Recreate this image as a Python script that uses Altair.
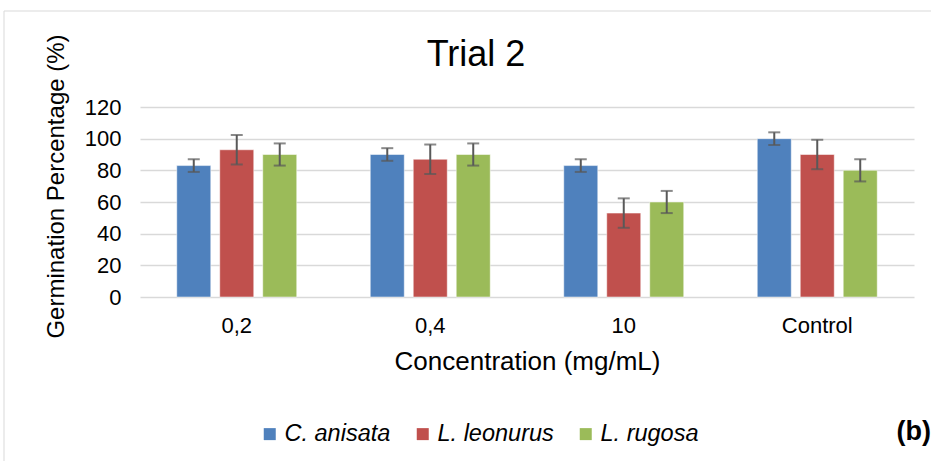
import altair as alt
import pandas as pd

concentrations = ["0,2", "0,4", "10", "Control"]
species = ["C. anisata", "L. leonurus", "L. rugosa"]
colors = ["#4f81bd", "#c0504d", "#9bbb59"]
c_anisata = [83, 90, 83, 100]
l_leonurus = [93, 87, 53, 90]
l_rugosa = [90, 90, 60, 80]
err_c_anisata = [4, 4, 4, 4]
err_l_leonurus = [9.3, 9.3, 9.3, 9.3]
err_l_rugosa = [7, 7, 7, 7]
y_ticks = [0, 20, 40, 60, 80, 100, 120]

rows = []
for sp, vals, errs in [
    ("C. anisata", c_anisata, err_c_anisata),
    ("L. leonurus", l_leonurus, err_l_leonurus),
    ("L. rugosa", l_rugosa, err_l_rugosa),
]:
    for c, v, e in zip(concentrations, vals, errs):
        rows.append({"conc": c, "species": sp, "value": v, "lo": v - e, "hi": v + e})
df = pd.DataFrame(rows)

FONT = "Liberation Sans"

x_axis = alt.Axis(
    title="Concentration (mg/mL)",
    labelAngle=0,
    labelFont=FONT,
    labelFontSize=22,
    labelColor="#000000",
    labelPadding=18,
    titleFont=FONT,
    titleFontSize=26,
    titleFontWeight="normal",
    titleColor="#000000",
    titlePadding=12,
    domain=False,
    ticks=False,
    grid=False,
)
x_scale = alt.Scale(paddingInner=0.38, paddingOuter=0.19)
xoff_scale = alt.Scale(paddingInner=0.209, paddingOuter=0)
y_scale = alt.Scale(domain=[0, 120])

y_axis = alt.Axis(
    values=y_ticks,
    labelOverlap=False,
    title="Germination Percentage (%)",
    labelFont=FONT,
    labelFontSize=22,
    labelColor="#000000",
    labelPadding=19,
    titleFont=FONT,
    titleFontSize=24,
    titleFontWeight="normal",
    titleColor="#000000",
    titleAngle=-90,
    titleBaseline="alphabetic",
    titleAlign="center",
    titleX=-77,
    titleY=79,
    domain=False,
    ticks=False,
    gridColor="#d9d9d9",
    gridWidth=1.5,
)


def xe():
    return alt.X("conc:N", sort=concentrations, scale=x_scale, axis=x_axis)


def xo():
    return alt.XOffset("species:N", sort=species, scale=xoff_scale)


bars = alt.Chart(df).mark_bar(stroke="white", strokeWidth=0.5).encode(
    x=xe(),
    xOffset=xo(),
    y=alt.Y("value:Q", scale=y_scale, axis=y_axis),
    color=alt.Color(
        "species:N",
        sort=species,
        scale=alt.Scale(domain=species, range=colors),
        legend=alt.Legend(
            title=None,
            orient="none",
            direction="horizontal",
            legendX=118,
            legendY=315,
            symbolType="square",
            symbolSize=144,
            symbolStrokeWidth=0,
            labelFont=FONT,
            labelFontSize=23.5,
            labelFontStyle="italic",
            labelColor="#000000",
            labelOffset=3,
            columnPadding=20,
            padding=0,
        ),
    ),
)

rules = alt.Chart(df).mark_rule(color="#595959", strokeWidth=2).encode(
    x=xe(),
    xOffset=xo(),
    y=alt.Y("lo:Q", scale=y_scale, axis=y_axis),
    y2="hi:Q",
)

caps_hi = alt.Chart(df).mark_tick(color="#595959", thickness=2, size=12).encode(
    x=xe(),
    xOffset=xo(),
    y=alt.Y("hi:Q", scale=y_scale, axis=y_axis),
)
caps_lo = alt.Chart(df).mark_tick(color="#595959", thickness=2, size=12).encode(
    x=xe(),
    xOffset=xo(),
    y=alt.Y("lo:Q", scale=y_scale, axis=y_axis),
)

frame_top = alt.Chart(pd.DataFrame({"k": [0]})).mark_rule(color="#d9d9d9", strokeWidth=1).encode(
    x=alt.value(-136), x2=alt.value(800), y=alt.value(-96)
)
frame_left = alt.Chart(pd.DataFrame({"k": [0]})).mark_rule(color="#d9d9d9", strokeWidth=1).encode(
    x=alt.value(-136), y=alt.value(-96), y2=alt.value(360)
)

title_text = alt.Chart(pd.DataFrame({"t": ["Trial 2"]})).mark_text(
    font=FONT, fontSize=36, align="center", baseline="alphabetic", color="#000000"
).encode(x=alt.value(336), y=alt.value(-41), text="t:N")

label_b = alt.Chart(pd.DataFrame({"t": ["(b)"]})).mark_text(
    font=FONT, fontSize=27, fontWeight="bold", align="right", baseline="alphabetic", color="#000000"
).encode(x=alt.value(791), y=alt.value(333), text="t:N")

chart = alt.layer(frame_top, frame_left, bars, rules, caps_hi, caps_lo, title_text, label_b).properties(
    width=774,
    height=190,
    background="white",
    padding={"left": 140, "top": 107, "right": 17, "bottom": 164},
    autosize=alt.AutoSizeParams(type="none"),
).configure_view(strokeWidth=0)

chart.save("out.html", embed_options={"renderer": "svg", "actions": False})
